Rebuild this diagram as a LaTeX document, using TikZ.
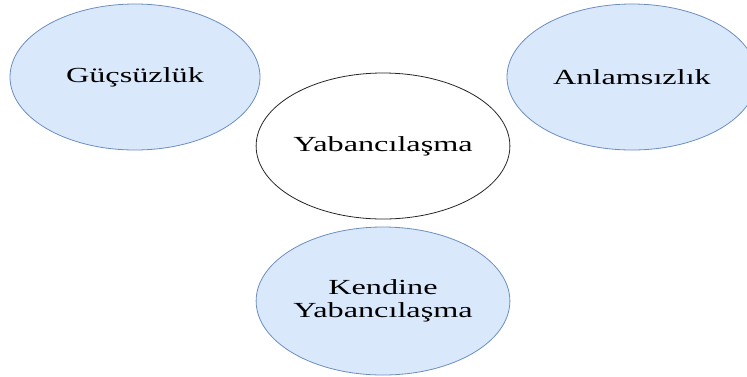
\documentclass[tikz,border=0pt]{standalone}
\usepackage{fontspec}
\setmainfont{Liberation Serif}[FakeStretch=1.5]
\usetikzlibrary{shapes.geometric}
\definecolor{bluefill}{HTML}{DAE8FC}
\definecolor{blueline}{HTML}{6C8EBF}
\tikzset{
  oval/.style={ellipse, draw, line width=0.8pt, inner sep=0pt,
    minimum width=250pt, minimum height=146pt, align=center,
    font=\fontsize{21.5}{23}\selectfont},
  blueoval/.style={oval, draw=blueline, fill=bluefill},
  whiteoval/.style={oval, draw=black!85, fill=white}
}
\begin{document}
\begin{tikzpicture}[x=1pt,y=-1pt]
	%%%%% START %%%%%
	
	\clip (0, 0) rectangle (747, 376);
	
	\node[blueoval] (powerless) at (135, 77) {Güçsüzlük};
	\node[blueoval] (meaningless) at (632, 77) {Anlamsızlık};
	
	\node[whiteoval] (alienation) at (383, 146) {Yabancılaşma};
	
	\node[blueoval, minimum height=148pt] (selfalien) at (383, 301) {Kendine\\Yabancılaşma};
	
	%%%%% END %%%%%
\end{tikzpicture}
\end{document}
